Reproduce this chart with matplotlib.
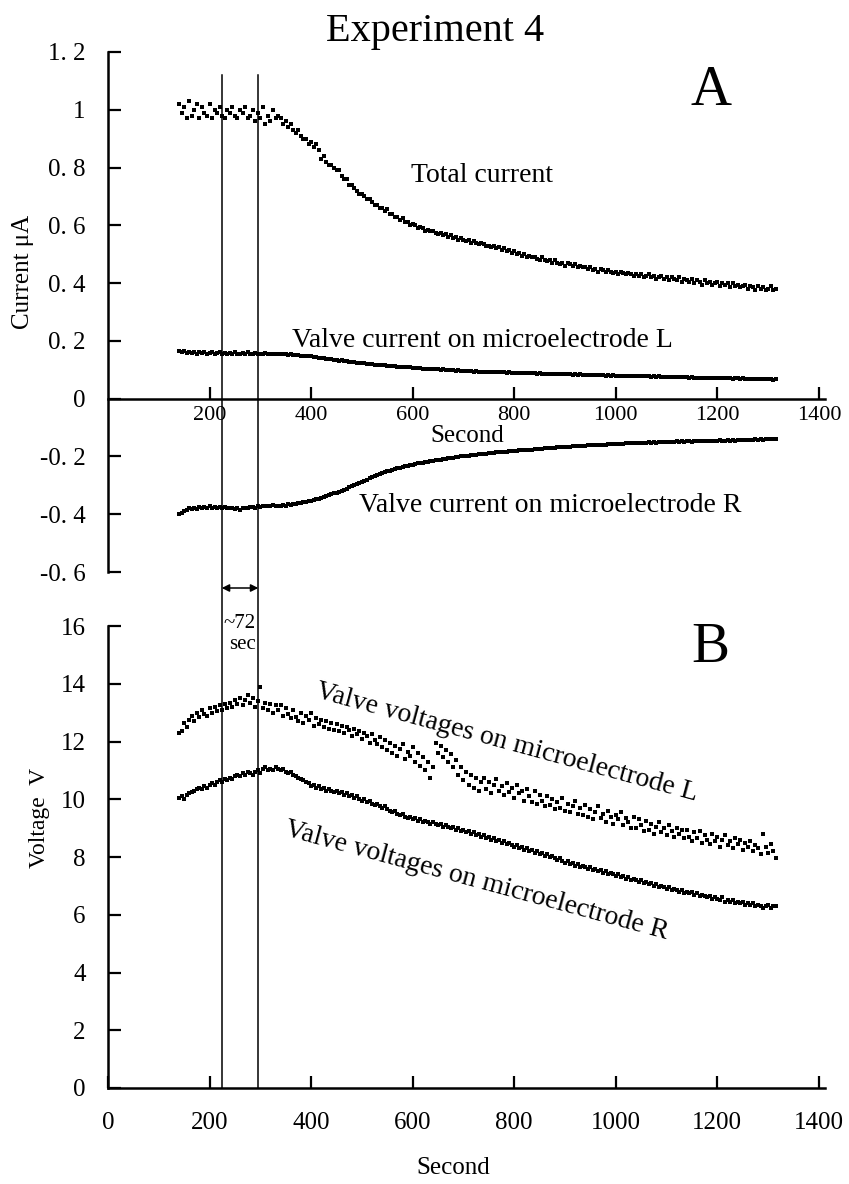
import numpy as np
import matplotlib
matplotlib.use("Agg")
import matplotlib.pyplot as plt
import matplotlib.transforms as mtransforms
from matplotlib.lines import Line2D

plt.rcParams['font.family'] = ['Liberation Serif', 'DejaVu Serif']

# ---------------- data (sampled every 5 s from 140 s) ----------------
t_start, t_step = 140, 5

total_current = [
    1.02, 0.99, 1.01, 0.97, 1.03, 0.98, 1.00, 1.02, 0.97, 1.01, 0.99, 0.98, 1.02, 0.97, 1.00, 0.99, 1.01, 0.98, 0.97, 1.00,
    0.99, 1.01, 0.98, 0.97, 1.00, 0.99, 1.01, 0.97, 0.98, 1.00, 0.96, 0.99, 0.97, 1.01, 0.95, 0.98, 0.96, 1.00, 0.97, 0.98,
    0.97, 0.95, 0.96, 0.94, 0.95, 0.93, 0.92, 0.93, 0.91, 0.90, 0.90, 0.88, 0.89, 0.87, 0.88, 0.86, 0.83, 0.84, 0.82, 0.81,
    0.81, 0.80, 0.79, 0.79, 0.77, 0.76, 0.76, 0.74, 0.74, 0.73, 0.72, 0.71, 0.71, 0.70, 0.69, 0.69, 0.68, 0.67, 0.67, 0.66,
    0.66, 0.65, 0.655, 0.64, 0.64, 0.63, 0.63, 0.62, 0.625, 0.61, 0.61, 0.60, 0.605, 0.60, 0.59, 0.595, 0.59, 0.58, 0.585, 0.58,
    0.58, 0.575, 0.57, 0.575, 0.565, 0.57, 0.56, 0.565, 0.555, 0.56, 0.55, 0.555, 0.55, 0.545, 0.55, 0.54, 0.545, 0.54, 0.535, 0.54,
    0.535, 0.53, 0.53, 0.525, 0.53, 0.52, 0.525, 0.515, 0.52, 0.51, 0.515, 0.505, 0.51, 0.50, 0.505, 0.495, 0.50, 0.49, 0.495, 0.49,
    0.49, 0.485, 0.48, 0.49, 0.48, 0.475, 0.48, 0.47, 0.48, 0.47, 0.465, 0.47, 0.46, 0.47, 0.465, 0.46, 0.465, 0.455, 0.46, 0.455,
    0.455, 0.45, 0.455, 0.445, 0.45, 0.44, 0.45, 0.445, 0.44, 0.445, 0.44, 0.435, 0.44, 0.43, 0.44, 0.435, 0.43, 0.435, 0.43, 0.425,
    0.43, 0.425, 0.43, 0.42, 0.425, 0.43, 0.42, 0.425, 0.415, 0.42, 0.425, 0.415, 0.42, 0.41, 0.42, 0.415, 0.41, 0.42, 0.405, 0.415,
    0.41, 0.405, 0.415, 0.40, 0.41, 0.405, 0.395, 0.41, 0.40, 0.405, 0.395, 0.40, 0.405, 0.39, 0.40, 0.395, 0.40, 0.385, 0.40, 0.39,
    0.395, 0.385, 0.39, 0.395, 0.38, 0.39, 0.385, 0.375, 0.39, 0.38, 0.385, 0.375, 0.38, 0.39, 0.375, 0.38,
]

current_L = [
    0.165, 0.16, 0.165, 0.158, 0.162, 0.157, 0.16, 0.155, 0.16, 0.157, 0.162, 0.155, 0.158, 0.16, 0.155, 0.157, 0.16, 0.154, 0.158, 0.156,
    0.158, 0.155, 0.16, 0.156, 0.153, 0.158, 0.155, 0.16, 0.156, 0.155, 0.158, 0.155, 0.156, 0.154, 0.157, 0.155, 0.153, 0.156, 0.154, 0.155,
    0.155, 0.153, 0.155, 0.152, 0.154, 0.151, 0.15, 0.152, 0.149, 0.148, 0.147, 0.148, 0.146, 0.145, 0.144, 0.142, 0.141, 0.14, 0.138, 0.137,
    0.136, 0.135, 0.134, 0.132, 0.133, 0.13, 0.129, 0.128, 0.127, 0.126, 0.125, 0.123, 0.124, 0.122, 0.121, 0.12, 0.119, 0.118, 0.117, 0.117,
    0.116, 0.115, 0.114, 0.113, 0.113, 0.112, 0.111, 0.11, 0.11, 0.109, 0.108, 0.108, 0.107, 0.106, 0.106, 0.105, 0.104, 0.104, 0.103, 0.103,
    0.102, 0.102, 0.101, 0.1, 0.101, 0.099, 0.1, 0.098, 0.099, 0.097, 0.098, 0.096, 0.097, 0.096, 0.095, 0.096, 0.094, 0.095, 0.094, 0.093,
    0.094, 0.093, 0.094, 0.092, 0.093, 0.091, 0.092, 0.091, 0.092, 0.09, 0.091, 0.09, 0.089, 0.09, 0.089, 0.09, 0.088, 0.089, 0.088, 0.088,
    0.088, 0.087, 0.088, 0.086, 0.087, 0.086, 0.087, 0.085, 0.086, 0.085, 0.086, 0.084, 0.085, 0.084, 0.085, 0.083, 0.084, 0.083, 0.084, 0.083,
    0.083, 0.082, 0.083, 0.082, 0.081, 0.082, 0.081, 0.082, 0.08, 0.081, 0.08, 0.081, 0.08, 0.079, 0.08, 0.079, 0.08, 0.078, 0.079, 0.079,
    0.078, 0.079, 0.077, 0.078, 0.077, 0.078, 0.076, 0.077, 0.076, 0.077, 0.075, 0.076, 0.075, 0.076, 0.075, 0.074, 0.075, 0.074, 0.075, 0.074,
    0.074, 0.073, 0.074, 0.073, 0.072, 0.073, 0.072, 0.073, 0.071, 0.072, 0.071, 0.072, 0.071, 0.07, 0.071, 0.07, 0.071, 0.07, 0.069, 0.07,
    0.07, 0.069, 0.07, 0.069, 0.068, 0.069, 0.068, 0.069, 0.068, 0.067, 0.068, 0.067, 0.068, 0.067, 0.066, 0.067,
]

current_R = [
    -0.40, -0.395, -0.39, -0.385, -0.38, -0.383, -0.378, -0.382, -0.376, -0.38, -0.375, -0.378, -0.372, -0.377, -0.374, -0.378, -0.375, -0.38, -0.376, -0.378,
    -0.377, -0.38, -0.383, -0.379, -0.384, -0.38, -0.377, -0.38, -0.376, -0.374, -0.377, -0.372, -0.375, -0.371, -0.373, -0.37, -0.372, -0.369, -0.371, -0.37,
    -0.372, -0.368, -0.37, -0.366, -0.367, -0.364, -0.365, -0.361, -0.362, -0.358, -0.357, -0.355, -0.353, -0.351, -0.348, -0.346, -0.343, -0.341, -0.337, -0.335,
    -0.331, -0.328, -0.325, -0.322, -0.318, -0.315, -0.311, -0.307, -0.304, -0.3, -0.296, -0.292, -0.288, -0.284, -0.28, -0.276, -0.272, -0.268, -0.265, -0.261,
    -0.258, -0.255, -0.252, -0.25, -0.246, -0.244, -0.241, -0.239, -0.236, -0.234, -0.232, -0.23, -0.228, -0.226, -0.224, -0.222, -0.221, -0.219, -0.218, -0.216,
    -0.215, -0.213, -0.212, -0.211, -0.209, -0.208, -0.207, -0.205, -0.204, -0.203, -0.202, -0.2, -0.199, -0.198, -0.197, -0.196, -0.195, -0.194, -0.193, -0.192,
    -0.191, -0.19, -0.189, -0.188, -0.188, -0.186, -0.186, -0.184, -0.184, -0.183, -0.182, -0.181, -0.181, -0.18, -0.179, -0.178, -0.178, -0.177, -0.176, -0.176,
    -0.175, -0.174, -0.174, -0.173, -0.172, -0.172, -0.171, -0.17, -0.17, -0.169, -0.168, -0.168, -0.167, -0.166, -0.166, -0.165, -0.165, -0.164, -0.164, -0.163,
    -0.163, -0.162, -0.162, -0.161, -0.161, -0.16, -0.16, -0.159, -0.159, -0.158, -0.158, -0.157, -0.157, -0.156, -0.156, -0.156, -0.155, -0.155, -0.154, -0.154,
    -0.154, -0.153, -0.153, -0.152, -0.153, -0.151, -0.152, -0.15, -0.152, -0.151, -0.15, -0.149, -0.151, -0.15, -0.149, -0.15, -0.148, -0.149, -0.148, -0.149,
    -0.148, -0.147, -0.149, -0.146, -0.148, -0.147, -0.146, -0.147, -0.145, -0.147, -0.146, -0.145, -0.146, -0.144, -0.146, -0.145, -0.144, -0.145, -0.143, -0.145,
    -0.144, -0.143, -0.144, -0.142, -0.143, -0.142, -0.143, -0.141, -0.142, -0.141, -0.142, -0.14, -0.141, -0.14, -0.141, -0.14,
]

voltage_L = [
    12.3, 12.35, 12.65, 12.5, 12.75, 12.9, 12.7, 13.0, 12.85, 13.1, 12.95, 12.9, 13.15, 13.0, 13.2, 13.05, 13.25, 13.1, 13.3, 13.15,
    13.35, 13.2, 13.45, 13.3, 13.5, 13.25, 13.45, 13.6, 13.35, 13.5, 13.2, 13.4, 13.9, 13.15, 13.35, 13.1, 13.3, 13.0, 13.25, 13.1,
    13.25, 12.9, 13.15, 12.95, 12.8, 13.1, 12.85, 12.7, 13.0, 12.65, 12.9, 12.75, 13.0, 12.55, 12.8, 12.6, 12.75, 12.5, 12.7, 12.45,
    12.65, 12.4, 12.6, 12.35, 12.55, 12.3, 12.5, 12.4, 12.2, 12.45, 12.25, 12.35, 12.1, 12.3, 12.2, 11.95, 12.25, 12.05, 11.9, 12.15,
    11.8, 12.05, 11.7, 11.95, 11.6, 11.85, 11.5, 11.75, 11.9, 11.4, 11.65, 11.5, 11.8, 11.3, 11.6, 11.15, 11.45, 11.0, 11.3, 10.75,
    11.1, 11.95, 11.6, 11.85, 11.45, 11.7, 11.3, 11.55, 11.1, 11.35, 10.85, 11.1, 10.65, 10.95, 10.5, 10.85, 10.4, 10.75, 10.3, 10.6,
    10.75, 10.35, 10.6, 10.2, 10.5, 10.7, 10.3, 10.45, 10.15, 10.55, 10.25, 10.4, 10.05, 10.5, 10.2, 10.3, 9.95, 10.35, 10.1, 9.9,
    10.3, 9.85, 10.15, 9.95, 9.75, 10.1, 9.8, 10.0, 9.65, 9.9, 9.7, 10.05, 9.6, 9.85, 9.55, 9.75, 9.95, 9.5, 9.7, 9.45,
    9.8, 9.4, 9.65, 9.3, 9.55, 9.75, 9.35, 9.5, 9.2, 9.6, 9.4, 9.15, 9.45, 9.3, 9.55, 9.1, 9.35, 9.2, 9.0, 9.4,
    9.0, 9.3, 9.1, 8.9, 9.25, 8.95, 9.15, 8.8, 9.05, 9.2, 8.85, 9.0, 8.75, 9.1, 8.9, 8.7, 9.0, 8.8, 8.95, 8.65,
    8.95, 8.7, 8.55, 8.85, 8.65, 8.9, 8.5, 8.75, 8.6, 8.45, 8.8, 8.55, 8.7, 8.35, 8.6, 8.75, 8.4, 8.55, 8.3, 8.65,
    8.45, 8.6, 8.25, 8.5, 8.35, 8.55, 8.2, 8.4, 8.3, 8.1, 8.8, 8.35, 8.15, 8.45, 8.2, 7.95,
]

voltage_R = [
    10.05, 10.1, 10.0, 10.15, 10.2, 10.25, 10.3, 10.35, 10.4, 10.35, 10.45, 10.4, 10.5, 10.55, 10.5, 10.6, 10.65, 10.6, 10.7, 10.65,
    10.75, 10.7, 10.8, 10.85, 10.8, 10.9, 10.85, 10.95, 10.9, 10.85, 10.95, 11.0, 10.9, 11.05, 11.1, 11.0, 11.05, 11.0, 11.1, 11.05,
    11.0, 11.05, 10.95, 10.9, 10.95, 10.85, 10.8, 10.75, 10.7, 10.65, 10.6, 10.55, 10.45, 10.5, 10.4, 10.45, 10.35, 10.4, 10.3, 10.35,
    10.3, 10.25, 10.3, 10.2, 10.25, 10.15, 10.2, 10.1, 10.15, 10.05, 10.1, 10.0, 9.95, 10.0, 9.9, 9.95, 9.85, 9.8, 9.85, 9.75,
    9.7, 9.75, 9.65, 9.6, 9.55, 9.6, 9.5, 9.45, 9.5, 9.4, 9.35, 9.4, 9.3, 9.35, 9.25, 9.3, 9.2, 9.25, 9.2, 9.15,
    9.2, 9.15, 9.1, 9.15, 9.05, 9.1, 9.05, 9.0, 9.05, 8.95, 9.0, 8.9, 8.95, 8.85, 8.9, 8.8, 8.85, 8.75, 8.8, 8.7,
    8.75, 8.65, 8.7, 8.6, 8.65, 8.55, 8.6, 8.5, 8.55, 8.45, 8.5, 8.4, 8.35, 8.4, 8.3, 8.35, 8.25, 8.3, 8.2, 8.25,
    8.15, 8.2, 8.1, 8.15, 8.05, 8.1, 8.0, 8.05, 7.95, 7.9, 7.95, 7.85, 7.8, 7.85, 7.75, 7.8, 7.7, 7.75, 7.65, 7.7,
    7.65, 7.6, 7.65, 7.55, 7.6, 7.5, 7.55, 7.45, 7.5, 7.4, 7.45, 7.4, 7.35, 7.4, 7.3, 7.35, 7.25, 7.3, 7.2, 7.25,
    7.2, 7.15, 7.2, 7.1, 7.15, 7.05, 7.1, 7.0, 7.05, 6.95, 7.0, 6.95, 6.9, 6.95, 6.85, 6.9, 6.85, 6.8, 6.85, 6.75,
    6.8, 6.75, 6.8, 6.7, 6.75, 6.65, 6.7, 6.65, 6.6, 6.65, 6.55, 6.6, 6.55, 6.5, 6.6, 6.45, 6.5, 6.45, 6.5, 6.4,
    6.45, 6.4, 6.45, 6.35, 6.4, 6.35, 6.4, 6.3, 6.35, 6.3, 6.25, 6.3, 6.35, 6.25, 6.3, 6.3,
]

marker_lines = [224, 296]          # seconds
top_xticks = [200, 400, 600, 800, 1000, 1200, 1400]
top_yticks = [-0.6, -0.4, -0.2, 0, 0.2, 0.4, 0.6, 0.8, 1.0, 1.2]
top_ylabels = ["-0. 6", "-0. 4", "-0. 2", "0", "0. 2", "0. 4", "0. 6", "0. 8", "1", "1. 2"]
bot_xticks = [0, 200, 400, 600, 800, 1000, 1200, 1400]
bot_yticks = [0, 2, 4, 6, 8, 10, 12, 14, 16]


def seconds(vals):
    return t_start + t_step * np.arange(len(vals))


# ---------------- layout ----------------
W, H = 849, 1184
fig = plt.figure(figsize=(W / 100, H / 100), dpi=100)


def fx(px):
    return px / W


def fy(py):
    return 1 - py / H


ax1 = fig.add_axes([fx(108), fy(572), 717 / W, 520 / H])
ax2 = fig.add_axes([fx(108), fy(1088), 717 / W, 462 / H])

mk = dict(linestyle='none', marker='s', ms=2.4, mew=0, color='black')

# ---- panel A ----
ax1.plot(seconds(total_current), total_current, **mk)
ax1.plot(seconds(current_L), current_L, **mk)
ax1.plot(seconds(current_R), current_R, **mk)
ax1.set_xlim(0, 1412)
ax1.set_ylim(-0.6, 1.2)
for s in ['top', 'right']:
    ax1.spines[s].set_visible(False)
ax1.spines['bottom'].set_position(('data', 0))
for s in ['left', 'bottom']:
    ax1.spines[s].set_linewidth(1.8)
ax1.set_xticks(top_xticks)
ax1.set_xticklabels([str(v) for v in top_xticks])
ax1.set_yticks(top_yticks)
ax1.set_yticklabels(top_ylabels)
ax1.tick_params(axis='x', direction='in', length=9, width=1.6, pad=5, labelsize=16)
ax1.tick_params(axis='y', direction='in', length=9, width=1.6, pad=16, labelsize=18)

# ---- panel B ----
ax2.plot(seconds(voltage_L), voltage_L, **mk)
ax2.plot(seconds(voltage_R), voltage_R, **mk)
ax2.set_xlim(0, 1412)
ax2.set_ylim(0, 16)
for s in ['top', 'right']:
    ax2.spines[s].set_visible(False)
for s in ['left', 'bottom']:
    ax2.spines[s].set_linewidth(1.8)
ax2.set_xticks(bot_xticks)
ax2.set_xticklabels([str(v) for v in bot_xticks])
ax2.set_yticks(bot_yticks)
ax2.set_yticklabels([str(v) for v in bot_yticks])
ax2.tick_params(axis='x', direction='in', length=9, width=1.6, pad=17, labelsize=18)
ax2.tick_params(axis='y', direction='in', length=9, width=1.6, pad=16, labelsize=18)

# ---- vertical marker lines across both panels ----
trans = mtransforms.blended_transform_factory(ax2.transData, fig.transFigure)
for xv in marker_lines:
    fig.add_artist(Line2D([xv, xv], [fy(75), fy(1088)], transform=trans,
                          color='black', lw=1.1))
ax2.annotate('', xy=(marker_lines[1], fy(588)), xytext=(marker_lines[0], fy(588)),
             xycoords=trans, textcoords=trans, annotation_clip=False,
             arrowprops=dict(arrowstyle='<|-|>', color='black', lw=1.1,
                             mutation_scale=11, shrinkA=0, shrinkB=0))
fig.text(fx(256), fy(634), "~72\nsec", ha='right', va='center', fontsize=15,
         multialignment='right', linespacing=1.15)

# ---- texts ----
fig.text(fx(435), fy(31), "Experiment 4", ha='center', va='center', fontsize=29)
fig.text(fx(711), fy(105), "A", ha='center', va='baseline', fontsize=41)
fig.text(fx(710), fy(662), "B", ha='center', va='baseline', fontsize=41)
fig.text(fx(482), fy(182), "Total current", ha='center', va='baseline', fontsize=20)
fig.text(fx(482), fy(347), "Valve current on microelectrode L", ha='center', va='baseline', fontsize=20)
fig.text(fx(550), fy(512), "Valve current on microelectrode R", ha='center', va='baseline', fontsize=20)
fig.text(fx(505), fy(749), "Valve voltages on microelectrode L", ha='center', va='baseline',
         fontsize=20, rotation=-15.2, rotation_mode='anchor')
fig.text(fx(475), fy(887), "Valve voltages on microelectrode R", ha='center', va='baseline',
         fontsize=20, rotation=-15.2, rotation_mode='anchor')
fig.text(fx(467), fy(436), "Second", ha='center', va='center', fontsize=18)
fig.text(fx(453), fy(1168), "Second", ha='center', va='center', fontsize=18)
fig.text(fx(23), fy(272), "Current μA", ha='center', va='center', rotation=90, fontsize=18)
fig.text(fx(40), fy(818), "Voltage  V", ha='center', va='center', rotation=90, fontsize=17)

fig.savefig("out.png", dpi=100)
